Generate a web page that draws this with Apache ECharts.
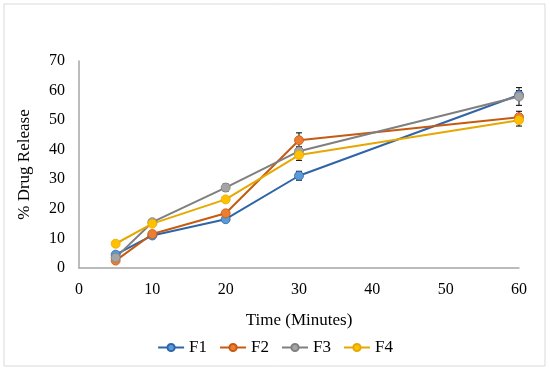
<!DOCTYPE html>
<html><head><meta charset="utf-8">
<script src="https://cdn.jsdelivr.net/npm/echarts@6/dist/echarts.min.js"></script>
<style>html,body{margin:0;padding:0;background:#fff}#c{width:550px;height:373px}</style>
</head><body><div id="c"></div>
<script>
const times = [5, 10, 20, 30, 60];
const seriesNames = ['F1', 'F2', 'F3', 'F4'];
const F1 = [4.5, 11, 16.5, 31.2, 58.5];
const F2 = [2.5, 11.5, 18.5, 43.2, 51];
const F3 = [3.5, 15.5, 27.2, 39.5, 58];
const F4 = [8.2, 15, 23.2, 38.2, 50];
const F1err = [0.5, 0.6, 0.8, 1.5, 1.5];
const F2err = [0.5, 0.6, 0.8, 2.5, 2];
const F3err = [0.5, 0.6, 1.2, 1.5, 3];
const F4err = [0.5, 0.6, 0.8, 1.8, 2];
const yTicks = [0, 10, 20, 30, 40, 50, 60, 70];
const xTicks = [0, 10, 20, 30, 40, 50, 60];

const values = [F1, F2, F3, F4];
const errs = [F1err, F2err, F3err, F4err];
const lineColors = ['#2E64A8', '#C55A11', '#7F7F7F', '#E6A800'];
const markerColors = ['#5B9BD5', '#ED7D31', '#A5A5A5', '#FFC000'];
const font = 'Liberation Serif';

const series = [];
values.forEach((v, i) => {
  series.push({
    name: seriesNames[i], type: 'line',
    data: times.map((t, j) => [t, v[j]]),
    symbol: 'circle', symbolSize: 9,
    lineStyle: { color: lineColors[i], width: 2 },
    itemStyle: { color: markerColors[i], borderColor: lineColors[i], borderWidth: 0.8 },
    z: 3
  });
});
values.forEach((v, i) => {
  series.push({
    name: seriesNames[i] + ' err', type: 'custom',
    data: times.map((t, j) => [t, v[j] - errs[i][j], v[j] + errs[i][j]]),
    renderItem: function (params, api) {
      const x = api.value(0);
      const lo = api.coord([x, api.value(1)]);
      const hi = api.coord([x, api.value(2)]);
      const w = 3;
      const st = { stroke: '#000', lineWidth: 1 };
      return { type: 'group', children: [
        { type: 'line', shape: { x1: lo[0], y1: lo[1], x2: hi[0], y2: hi[1] }, style: st },
        { type: 'line', shape: { x1: lo[0] - w, y1: lo[1], x2: lo[0] + w, y2: lo[1] }, style: st },
        { type: 'line', shape: { x1: hi[0] - w, y1: hi[1], x2: hi[0] + w, y2: hi[1] }, style: st }
      ]};
    },
    z: 2, silent: true
  });
});

const chart = echarts.init(document.getElementById('c'), null, { renderer: 'canvas' });
chart.setOption({
  animation: false,
  backgroundColor: '#fff',
  graphic: [{ type: 'rect', shape: { x: 4, y: 4, width: 541, height: 362 }, style: { fill: 'none', stroke: '#D9D9D9', lineWidth: 1 } }],
  grid: { left: 79, right: 31, top: 61, bottom: 105 },
  legend: {
    data: seriesNames, bottom: 12, left: 'center',
    itemWidth: 26, itemHeight: 9, itemGap: 12,
    textStyle: { fontFamily: font, fontSize: 17, color: '#000' }
  },
  xAxis: {
    type: 'value', min: 0, max: 60, interval: 10,
    name: 'Time (Minutes)', nameLocation: 'middle', nameGap: 44,
    nameTextStyle: { fontFamily: font, fontSize: 17, color: '#000' },
    axisLine: { show: true, lineStyle: { color: '#A6A6A6', width: 1.5 } },
    axisTick: { show: false }, splitLine: { show: false },
    axisLabel: { fontFamily: font, fontSize: 16, color: '#000', margin: 14,
      formatter: v => xTicks.includes(v) ? String(v) : '' }
  },
  yAxis: {
    type: 'value', min: 0, max: 70, interval: 10,
    name: '% Drug Release', nameLocation: 'middle', nameGap: 46, nameRotate: 90,
    nameTextStyle: { fontFamily: font, fontSize: 17, color: '#000' },
    axisLine: { show: true, lineStyle: { color: '#A6A6A6', width: 1.5 } },
    axisTick: { show: false }, splitLine: { show: false },
    axisLabel: { fontFamily: font, fontSize: 16, color: '#000', margin: 14,
      formatter: v => yTicks.includes(v) ? String(v) : '' }
  },
  series: series
});
</script></body></html>
